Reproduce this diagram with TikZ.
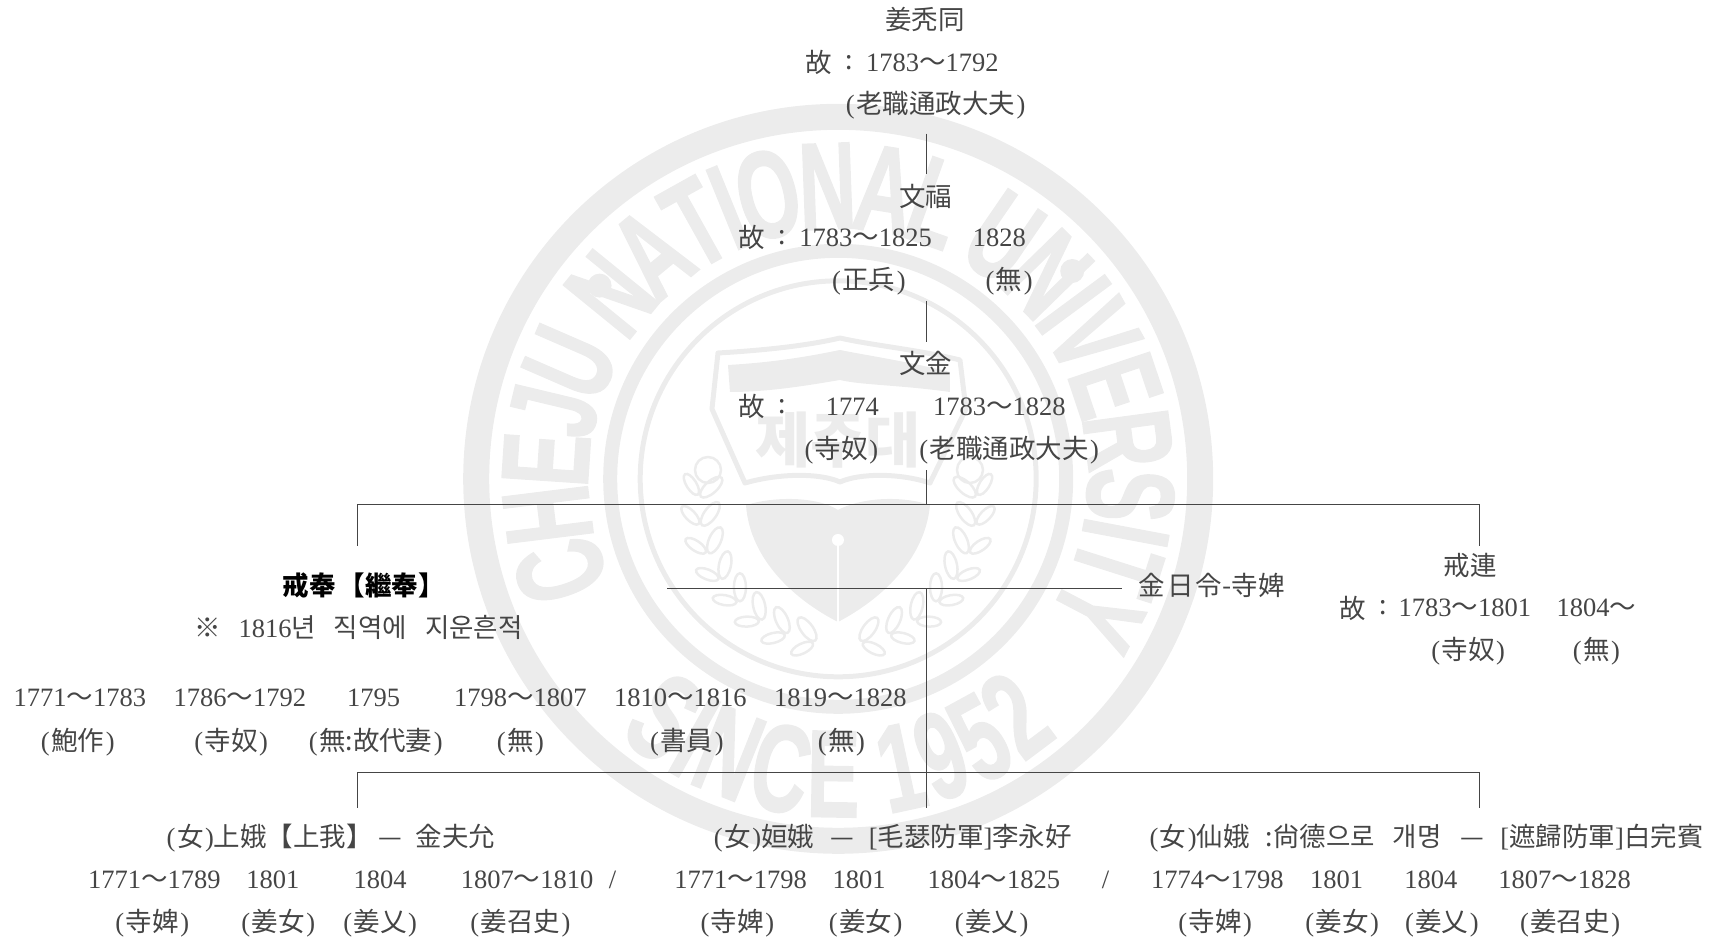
\documentclass[tikz,border=0pt]{standalone}
\usepackage{fontspec}
\setmainfont{Liberation Serif}
\setsansfont[BoldFeatures={FakeBold=1.5}]{Liberation Sans}
\newfontfamily\cjk{Noto Sans CJK KR}
\usetikzlibrary{positioning}
\usetikzlibrary{calc}
\definecolor{wmgray}{gray}{0.925}
\definecolor{inkgray}{gray}{0.27}
\newcommand{\K}[1]{{\cjk #1}}
\newcommand{\Pn}[1]{(\hspace{1.5pt}\K{#1}\hspace{1.5pt})}

\begin{document}
\begin{tikzpicture}[x=1.0957pt,y=-1.0957pt,
	label node/.style={inner sep=0pt,text=inkgray,font=\fontsize{26.5}{28}\selectfont},
	link/.style={draw=inkgray,line width=1pt},
	ring/.style={draw=wmgray},
	wm letter/.style={inner sep=0pt,anchor=base,text=wmgray,font=\fontsize{124}{124}\selectfont\sffamily\bfseries},
	leaf/.style={draw=wmgray,line width=2.5pt}]
	\useasboundingbox (0,0) rectangle (1568,857);
	
	% watermark
	\coordinate (wm) at (765,437);
	\draw[ring,line width=26pt] (wm) circle (362pt);
	\draw[ring,line width=14pt] (wm) circle (228pt);
	\draw[ring,line width=5pt] (wm) circle (198pt);
	\gdef\wmpos{0}
	\foreach \ch/\lw in {C/.72,H/.72,E/.67,J/.56,U/.72,{}/.28,N/.72,A/.72,T/.61,I/.28,O/.78,N/.72,A/.72,L/.61,{}/.28,U/.72,N/.72,I/.28,V/.67,E/.67,R/.72,S/.67,I/.28,T/.61,Y/.67} {
		\pgfmathsetmacro\ang{204-15.67*(\wmpos+\lw/2)}
		\node[wm letter,rotate=\ang-90] at ($(wm)+(\ang:250pt)$) {\scalebox{.64}[1]{\ch}};
		\pgfmathsetmacro\nextpos{\wmpos+\lw}
		\xdef\wmpos{\nextpos}
	}
	\gdef\wmpos{0}
	\foreach \ch/\lw in {S/.67,I/.28,N/.72,C/.72,E/.67,{}/.28,1/.56,9/.56,5/.56,2/.56} {
		\pgfmathsetmacro\ang{229+14.7*(\wmpos+\lw/2)}
		\node[wm letter,rotate=\ang+90] at ($(wm)+(\ang:338pt)$) {\scalebox{.64}[1]{\ch}};
		\pgfmathsetmacro\nextpos{\wmpos+\lw}
		\xdef\wmpos{\nextpos}
	}
	\fill[wmgray] ($(wm)+(141:307pt)$) circle (12pt);
	\fill[wmgray] ($(wm)+(41.6:313pt)$) circle (12pt);
	
	\begin{scope}[x=1pt,y=-1pt]
		% book
		\draw[wmgray,line width=5pt,line join=round] (712,409)--(718,353) .. controls (770,350) and (810,345) .. (840,338) .. controls (870,345) and (920,350) .. (960,360)--(966,409)--(930,483) .. controls (900,473) and (860,473) .. (840,482) .. controls (820,473) and (780,473) .. (745,483)--cycle;
		\fill[wmgray] (728,365) .. controls (780,362) and (815,355) .. (840,350) .. controls (865,355) and (910,362) .. (950,372)--(950,392) .. controls (900,385) and (860,385) .. (840,380) .. controls (810,385) and (770,392) .. (730,392)--cycle;
		% shield
		\fill[wmgray] (746,505) .. controls (780,495) and (820,498) .. (838,510) .. controls (860,498) and (900,495) .. (930,505) .. controls (925,560) and (880,600) .. (838,622) .. controls (795,600) and (750,560) .. (746,505)--cycle;
		\fill[white] (838,540) circle (6pt);
		\draw[white,line width=2.5pt] (838,540)--(838,622);
		\node[font=\cjk\bfseries\fontsize{60}{60}\selectfont,text=wmgray,inner sep=0pt] (badge) at (838,440) {제주대};
		% scrolls
		\draw[leaf] (708,470) circle (13pt);
		\draw[leaf] (970,470) circle (13pt);
		% laurel
		\foreach \ang in {172,184,...,256} {
			\draw[leaf,shift={($(838,505)+(\ang:128pt)$)},rotate=\ang+50] (0,0) ellipse (14pt and 6pt);
			\draw[leaf,shift={($(838,505)+(\ang:148pt)$)},rotate=\ang-50] (0,0) ellipse (12pt and 5pt);
		}
		\foreach \ang in {284,296,...,368} {
			\draw[leaf,shift={($(838,505)+(\ang:128pt)$)},rotate=\ang-50] (0,0) ellipse (14pt and 6pt);
			\draw[leaf,shift={($(838,505)+(\ang:148pt)$)},rotate=\ang+50] (0,0) ellipse (12pt and 5pt);
		}
	\end{scope}
	
	% junctions of the tree
	\coordinate (s1) at (846,122);
	\coordinate (s2) at (846,159);
	\coordinate (s3) at (846,275);
	\coordinate (s4) at (846,312);
	\coordinate (s5) at (846,429);
	\coordinate (s6) at (846,460);
	\coordinate (h1l) at (326,460);
	\coordinate (h1r) at (1350,460);
	\coordinate (d1l) at (326,498);
	\coordinate (d1r) at (1350,498);
	\coordinate (ml) at (609,537);
	\coordinate (mr) at (1024,537);
	\coordinate (s7) at (846,537);
	\coordinate (s9) at (846,737);
	\coordinate (h2l) at (326,705);
	\coordinate (h2r) at (1350,705);
	\coordinate (d2l) at (326,737);
	\coordinate (d2r) at (1350,737);
	
	\draw[link] (s1) -- (s2);
	\draw[link] (s3) -- (s4);
	\draw[link] (s5) -- (s6);
	\draw[link] (d1l) -- (h1l) -- (h1r) -- (d1r);
	\draw[link] (ml) -- (mr);
	\draw[link] (s7) -- (s9);
	\draw[link] (d2l) -- (h2l) -- (h2r) -- (d2r);
	
	% first generations
	\node[label node] (kang) at (844,18) {\K{姜秃同}};
	\node[label node] (kangg) at (747,57) {\K{故}};
	\node[label node] (kangc) at (775,57) {\K{:}};
	\node[label node] (kangy) at (851,57) {1783\K{～}1792};
	\node[label node] (kangj) at (854,96) {\Pn{老職通政大夫}};
	
	\node[label node] (bok) at (845,179) {\K{文福}};
	\node[label node] (bokg) at (686,217) {\K{故}};
	\node[label node] (bokc) at (714,217) {\K{:}};
	\node[label node] (boky) at (790,217) {1783\K{～}1825};
	\node[label node] (bokz) at (912,217) {1828};
	\node[label node] (bokj) at (793,257) {\Pn{正兵}};
	\node[label node] (bokn) at (921,257) {\Pn{無}};
	
	\node[label node] (geum) at (845,332) {\K{文金}};
	\node[label node] (geumg) at (686,371) {\K{故}};
	\node[label node] (geumc) at (714,371) {\K{:}};
	\node[label node] (geumy) at (778,371) {1774};
	\node[label node] (geumz) at (912,371) {1783\K{～}1828};
	\node[label node] (geumj) at (768,411) {\Pn{寺奴}};
	\node[label node] (geumk) at (921,411) {\Pn{老職通政大夫}};
	
	% sons
	\node[label node,text=black] (bong) at (332,534) {\K{\bfseries 戒奉}\hspace{3pt}\K{\bfseries 【繼奉】}};
	\node[label node] (bongn) at (327,573) {\K{※}\hspace{18pt}1816\K{년}\hspace{18pt}\K{직역에}\hspace{18pt}\K{지운흔적}};
	\node[label node] (wife) at (1106,534) {\K{金}\hspace{2pt}\K{日}\hspace{2pt}\K{令-寺婢}};
	
	\node[label node] (ryeon) at (1342,516) {\K{戒連}};
	\node[label node] (ryeong) at (1235,555) {\K{故}};
	\node[label node] (ryeonc) at (1262,555) {\K{:}};
	\node[label node] (ryeony) at (1337,555) {1783\K{～}1801};
	\node[label node] (ryeonz) at (1457,555) {1804\K{～}};
	\node[label node] (ryeonj) at (1340,594) {\Pn{寺奴}};
	\node[label node] (ryeonn) at (1457,594) {\Pn{無}};
	
	% years of the second son
	\node[label node] (y1) at (73,637) {1771\K{～}1783};
	\node[label node] (y2) at (219,637) {1786\K{～}1792};
	\node[label node] (y3) at (341,637) {1795};
	\node[label node] (y4) at (475,637) {1798\K{～}1807};
	\node[label node] (y5) at (621,637) {1810\K{～}1816};
	\node[label node] (y6) at (767,637) {1819\K{～}1828};
	\node[label node] (j1) at (71,677) {\Pn{鮑作}};
	\node[label node] (j2) at (211,677) {\Pn{寺奴}};
	\node[label node] (j3) at (343,677) {\Pn{無:故代妻}};
	\node[label node] (j4) at (475,677) {\Pn{無}};
	\node[label node] (j5) at (627,677) {\Pn{書員}};
	\node[label node] (j6) at (768,677) {\Pn{無}};
	
	% daughters
	\node[label node] (da) at (302,765) {\Pn{女}\K{上娥【上我】}\hspace{6pt}\K{—}\hspace{13pt}\K{金夫允}};
	\node[label node] (day1) at (141,803) {1771\K{～}1789};
	\node[label node] (day2) at (249,803) {1801};
	\node[label node] (day3) at (347,803) {1804};
	\node[label node] (day4) at (481,803) {1807\K{～}1810};
	\node[label node] (das) at (559,803) {/};
	\node[label node] (daj1) at (139,843) {\Pn{寺婢}};
	\node[label node] (daj2) at (254,843) {\Pn{姜女}};
	\node[label node] (daj3) at (347,843) {\Pn{姜乂}};
	\node[label node] (daj4) at (475,843) {\Pn{姜召史}};
	
	\node[label node] (db) at (815,765) {\Pn{女}\K{姮娥}\hspace{16pt}\K{—}\hspace{15pt}[\K{毛瑟防軍}]\K{李永好}};
	\node[label node] (dby1) at (676,803) {1771\K{～}1798};
	\node[label node] (dby2) at (784,803) {1801};
	\node[label node] (dby3) at (907,803) {1804\K{～}1825};
	\node[label node] (dbs) at (1009,803) {/};
	\node[label node] (dbj1) at (673,843) {\Pn{寺婢}};
	\node[label node] (dbj2) at (790,843) {\Pn{姜女}};
	\node[label node] (dbj3) at (905,843) {\Pn{姜乂}};
	
	\node[label node] (dc) at (1302,765) {\Pn{女}\K{仙娥}\hspace{16pt}\K{:尙德으로}\hspace{18pt}\K{개명}\hspace{19pt}\K{—}\hspace{16pt}[\K{遮歸防軍}]\K{白完賓}};
	\node[label node] (dcy1) at (1111,803) {1774\K{～}1798};
	\node[label node] (dcy2) at (1220,803) {1801};
	\node[label node] (dcy3) at (1306,803) {1804};
	\node[label node] (dcy4) at (1428,803) {1807\K{～}1828};
	\node[label node] (dcj1) at (1109,843) {\Pn{寺婢}};
	\node[label node] (dcj2) at (1225,843) {\Pn{姜女}};
	\node[label node] (dcj3) at (1316,843) {\Pn{姜乂}};
	\node[label node] (dcj4) at (1433,843) {\Pn{姜召史}};
\end{tikzpicture}
\end{document}
